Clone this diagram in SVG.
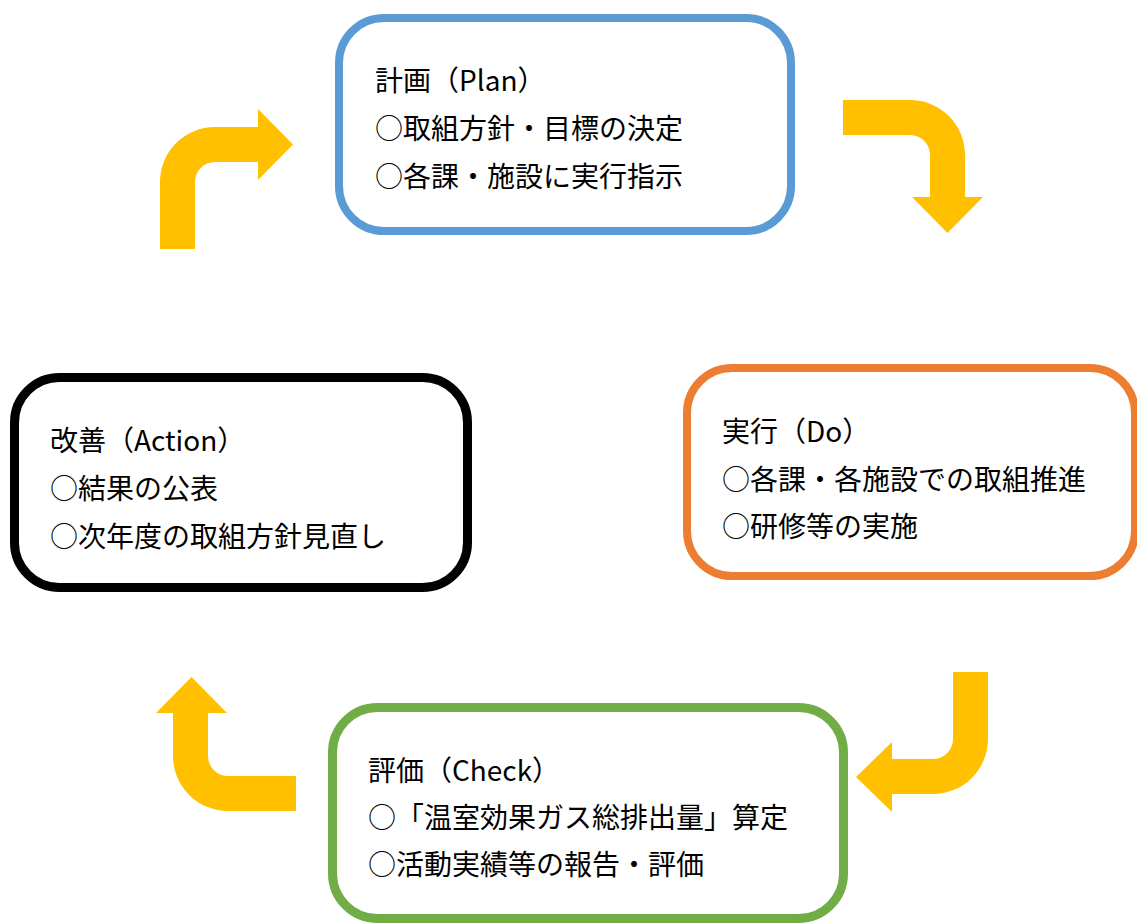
<svg xmlns="http://www.w3.org/2000/svg" width="1137" height="923" viewBox="0 0 1137 923">
<style>
.box{fill:#fff;}
.t{font-family:"Noto Sans CJK JP","Noto Sans CJK SC",sans-serif;font-size:28px;fill:#000;}
.arr{fill:#FFC000;stroke:none;}
</style>
<rect width="1137" height="923" fill="#fff"/>
<g id="connectors">
<path class="arr" d="M160,249 L160,182 A55,55 0 0 1 215,127 L258,127 L258,109 L293,144.5 L258,180 L258,162 L215,162 A20,20 0 0 0 195,182 L195,249 Z"/>
<path class="arr" d="M843,100 L910,100 A55,55 0 0 1 965,155 L965,197 L983,197 L947.5,233 L912,197 L930,197 L930,155 A20,20 0 0 0 910,135 L843,135 Z"/>
<path class="arr" d="M953,672 L988,672 L988,739 A55,55 0 0 1 933,794 L892,794 L892,812 L856,777 L892,742 L892,759 L933,759 A20,20 0 0 0 953,739 Z"/>
<path class="arr" d="M296,776 L296,811 L228,811 A55,55 0 0 1 173,756 L173,713 L156,713 L191.5,677 L227,713 L208,713 L208,756 A20,20 0 0 0 228,776 Z"/>
</g>
<g id="plan">
<rect class="box" x="339" y="18" width="452" height="213" rx="45" stroke="#5B9BD5" stroke-width="8"/>
<text class="t" x="375" y="91">計画（Plan）</text>
<text class="t" x="375" y="139">○取組方針・目標の決定</text>
<text class="t" x="375" y="187">○各課・施設に実行指示</text>
</g>
<g id="do">
<rect class="box" x="687" y="368" width="448" height="208" rx="45" stroke="#ED7D31" stroke-width="8"/>
<text class="t" x="722" y="442">実行（Do）</text>
<text class="t" x="722" y="490">○各課・各施設での取組推進</text>
<text class="t" x="722" y="537">○研修等の実施</text>
</g>
<g id="check">
<rect class="box" x="332.5" y="707.5" width="511" height="211" rx="45" stroke="#70AD47" stroke-width="9"/>
<text class="t" x="368" y="781">評価（Check）</text>
<text class="t" x="368" y="828">○「温室効果ガス総排出量」算定</text>
<text class="t" x="368" y="875">○活動実績等の報告・評価</text>
</g>
<g id="action">
<rect class="box" x="14.5" y="377.5" width="453" height="210" rx="45" stroke="#000" stroke-width="9"/>
<text class="t" x="50" y="451">改善（Action）</text>
<text class="t" x="50" y="499">○結果の公表</text>
<text class="t" x="50" y="547">○次年度の取組方針見直し</text>
</g>
</svg>
